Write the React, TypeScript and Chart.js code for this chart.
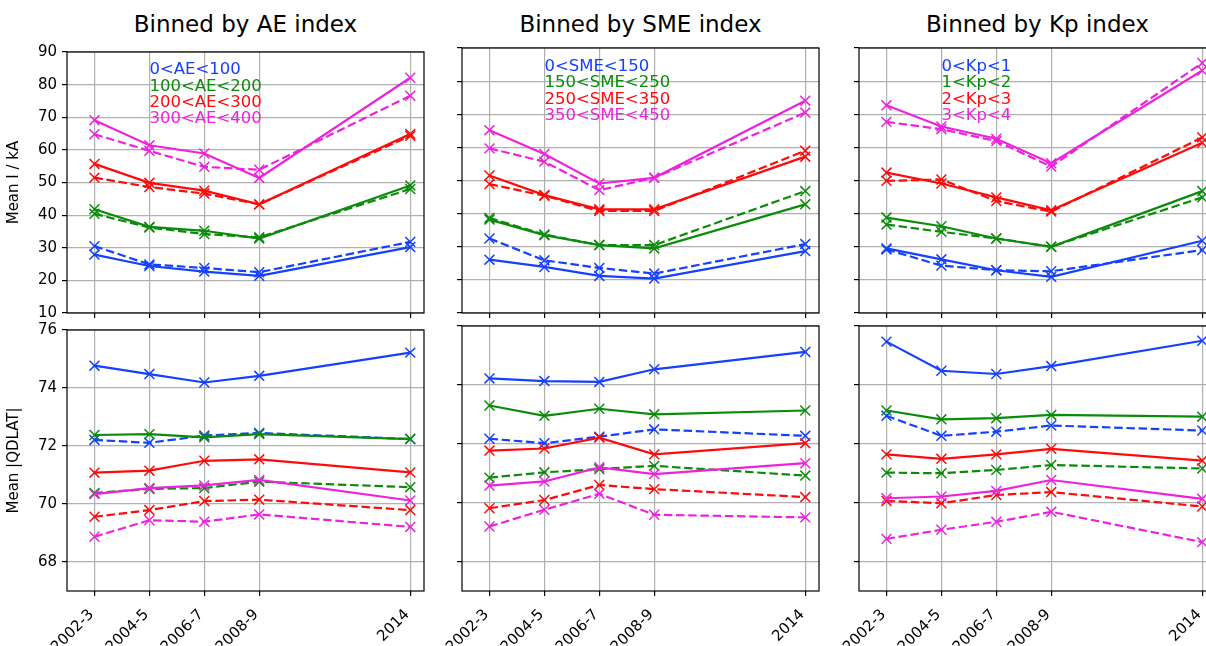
import { useEffect, useRef } from "react";
import { Chart, registerables } from "chart.js";

Chart.register(...registerables);

// x positions of the observation periods (mid-year of each bin)
const periods = ["2002-3", "2004-5", "2006-7", "2008-9", "2014"];
const periodX = [2002.5, 2004.5, 2006.5, 2008.5, 2014];

const currentTicks = [10, 20, 30, 40, 50, 60, 70, 80, 90];
const qdlatTicks = [68, 70, 72, 74, 76];

const aeBins = ["0<AE<100", "100<AE<200", "200<AE<300", "300<AE<400"];
const smeBins = ["0<SME<150", "150<SME<250", "250<SME<350", "350<SME<450"];
const kpBins = ["0<Kp<1", "1<Kp<2", "2<Kp<3", "3<Kp<4"];

// Mean current I / kA (rows: bins low -> high)
const aeCurrentSolid = [
  [27.9, 24.4, 22.7, 21.4, 30.2],
  [41.8, 36.4, 35.2, 32.8, 49.1],
  [55.7, 49.9, 47.5, 43.3, 64.9],
  [69.1, 61.4, 58.9, 51.4, 82.1],
];
const aeCurrentDashed = [
  [30.5, 24.9, 23.8, 22.5, 31.8],
  [40.4, 36.2, 34.2, 33.2, 48.0],
  [51.5, 48.6, 46.6, 43.3, 64.3],
  [64.8, 59.7, 54.8, 53.9, 76.6],
];
const smeCurrentSolid = [
  [26.1, 23.9, 21.2, 20.4, 28.7],
  [38.2, 33.5, 30.5, 29.5, 42.8],
  [51.5, 45.6, 41.3, 41.3, 57.2],
  [65.2, 58.0, 49.1, 50.8, 74.1],
];
const smeCurrentDashed = [
  [32.5, 25.9, 23.6, 21.9, 30.8],
  [38.7, 33.7, 30.5, 30.5, 46.8],
  [48.9, 45.4, 40.8, 40.8, 59.0],
  [59.7, 55.7, 47.1, 50.8, 70.5],
];
const kpCurrentSolid = [
  [29.5, 26.2, 22.9, 20.9, 31.8],
  [38.8, 36.2, 32.5, 30.0, 46.8],
  [52.4, 49.1, 44.9, 41.0, 61.4],
  [72.7, 66.3, 62.6, 55.2, 83.2],
];
const kpCurrentDashed = [
  [29.2, 24.3, 22.9, 22.6, 29.0],
  [36.7, 34.5, 32.5, 30.0, 44.9],
  [49.9, 50.3, 43.8, 40.6, 63.0],
  [67.7, 65.5, 61.9, 54.2, 85.5],
];

// Mean |QDLAT|
const aeQdlatSolid = [
  [74.77, 74.48, 74.19, 74.42, 75.22],
  [72.38, 72.41, 72.3, 72.41, 72.24],
  [71.08, 71.15, 71.49, 71.54, 71.09],
  [70.34, 70.55, 70.64, 70.83, 70.12],
];
const aeQdlatDashed = [
  [72.21, 72.11, 72.36, 72.45, 72.24],
  [70.38, 70.52, 70.55, 70.77, 70.58],
  [69.56, 69.79, 70.1, 70.15, 69.79],
  [68.87, 69.44, 69.39, 69.64, 69.21],
];
const smeQdlatSolid = [
  [74.22, 74.13, 74.1, 74.53, 75.12],
  [73.3, 72.95, 73.19, 73.0, 73.13],
  [71.77, 71.84, 72.21, 71.64, 72.02],
  [70.58, 70.72, 71.2, 70.97, 71.34],
];
const smeQdlatDashed = [
  [72.17, 72.02, 72.24, 72.49, 72.27],
  [70.85, 71.03, 71.14, 71.25, 70.92],
  [69.81, 70.09, 70.6, 70.46, 70.19],
  [69.19, 69.76, 70.3, 69.59, 69.5],
];
const kpQdlatSolid = [
  [75.47, 74.48, 74.37, 74.64, 75.5],
  [73.13, 72.83, 72.87, 72.98, 72.92],
  [71.64, 71.49, 71.64, 71.83, 71.43],
  [70.15, 70.21, 70.4, 70.77, 70.13],
];
const kpQdlatDashed = [
  [72.95, 72.27, 72.41, 72.62, 72.45],
  [71.02, 71.0, 71.11, 71.28, 71.16],
  [70.06, 69.98, 70.26, 70.36, 69.87],
  [68.77, 69.08, 69.35, 69.69, 68.66],
];

const binColors = ["#1440ff", "#0a8c0a", "#ff0a0a", "#ee22dd"];
const FONT = "'DejaVu Sans', sans-serif";

const PLOT_W = 357;
const PLOT_H = 265;
const PAD_L = 67;
const PAD_R = 10;
const PAD_T = 10;
const PAD_B = 55;
const colLeft = [67, 462, 859];
const rowTop = [48, 326];

const framePlugin = {
  id: "frame",
  afterDraw(chart: any) {
    const { ctx, chartArea: a } = chart;
    ctx.save();
    ctx.strokeStyle = "#000";
    ctx.lineWidth = 1.2;
    ctx.strokeRect(a.left, a.top, a.right - a.left, a.bottom - a.top);
    ctx.restore();
  },
};

type PanelProps = {
  col: number;
  row: number;
  solid: number[][];
  dashed: number[][];
  bins: string[];
  yTicks: number[];
  yMin: number;
  yMax: number;
  yTitle?: string;
  showBins: boolean;
};

function Panel({ col, row, solid, dashed, bins, yTicks, yMin, yMax, yTitle, showBins }: PanelProps) {
  const chartRef = useRef<HTMLCanvasElement>(null);

  useEffect(() => {
    if (!chartRef.current) return;
    const ctx = chartRef.current.getContext("2d");
    if (!ctx) return;

    const datasets: any[] = [];
    for (let b = 0; b < bins.length; b++) {
      const series: [number[], number[]][] = [
        [solid[b], []],
        [dashed[b], [8.5, 3.7]],
      ];
      for (const [vals, dash] of series) {
        datasets.push({
          label: bins[b],
          data: periodX.map((x, i) => ({ x, y: vals[i] })),
          borderColor: binColors[b],
          backgroundColor: binColors[b],
          borderWidth: 2.2,
          borderDash: dash,
          pointStyle: "crossRot",
          pointRadius: 7,
          pointBorderWidth: 1.5,
          pointBorderColor: binColors[b],
          tension: 0,
          fill: false,
          order: 100 - datasets.length,
        });
      }
    }

    // coloured bin labels, placed in data coordinates
    const binLabels = {
      id: "binLabels",
      afterDatasetsDraw(chart: any) {
        if (!showBins) return;
        const { ctx: c, scales } = chart;
        c.save();
        c.font = `16.5px ${FONT}`;
        c.textAlign = "left";
        c.textBaseline = "alphabetic";
        bins.forEach((t, i) => {
          c.fillStyle = binColors[i];
          c.fillText(t, scales.x.getPixelForValue(2004.5), scales.y.getPixelForValue(85 - 5 * i) + 6);
        });
        c.restore();
      },
    };

    const gridOpts = {
      color: "#b0b0b0",
      lineWidth: 1.2,
      tickColor: "#000",
      tickLength: 5,
      tickWidth: 1.2,
    };

    const chart = new Chart(ctx, {
      type: "line",
      data: { datasets },
      options: {
        responsive: false,
        animation: false,
        layout: { padding: { left: 0, right: PAD_R, top: PAD_T, bottom: 0 } },
        plugins: {
          legend: { display: false },
          tooltip: { enabled: false },
        },
        scales: {
          x: {
            type: "linear",
            min: 2001.5,
            max: 2014.5,
            afterBuildTicks: (axis: any) => {
              axis.ticks = periodX.map((v) => ({ value: v }));
            },
            afterFit: (axis: any) => {
              axis.height = PAD_B;
            },
            ticks: {
              display: row === 1,
              autoSkip: false,
              minRotation: 45,
              maxRotation: 45,
              padding: 10,
              labelOffset: -3,
              color: "#000",
              font: { family: FONT, size: 15 },
              callback: (_v: any, i: number) => periods[i],
            },
            grid: gridOpts,
            border: { display: false },
          },
          y: {
            type: "linear",
            min: yMin,
            max: yMax,
            afterBuildTicks: (axis: any) => {
              axis.ticks = yTicks.map((v) => ({ value: v }));
            },
            afterFit: (axis: any) => {
              axis.width = PAD_L;
            },
            ticks: {
              display: col === 0,
              padding: 5,
              color: "#000",
              font: { family: FONT, size: 15 },
            },
            grid: gridOpts,
            border: { display: false },
            title: {
              display: !!yTitle,
              text: yTitle ?? "",
              color: "#000",
              font: { family: FONT, size: 15 },
              padding: { top: 5, bottom: 0 },
            },
          },
        },
      } as any,
      plugins: [binLabels, framePlugin],
    });

    return () => {
      chart.destroy();
    };
  }, []);

  const w = PAD_L + PLOT_W + PAD_R;
  const h = PAD_T + PLOT_H + PAD_B;
  return (
    <canvas
      ref={chartRef}
      width={w}
      height={h}
      style={{
        position: "absolute",
        left: colLeft[col] - PAD_L,
        top: rowTop[row] - PAD_T,
        width: w,
        height: h,
      }}
    />
  );
}

const titles = ["Binned by AE index", "Binned by SME index", "Binned by Kp index"];

export default function App() {
  return (
    <div
      style={{
        position: "fixed",
        left: 0,
        top: 0,
        width: 1206,
        height: 646,
        overflow: "hidden",
        background: "#fff",
      }}
    >
      {titles.map((t, i) => (
        <div
          key={t}
          style={{
            position: "absolute",
            left: colLeft[i],
            top: 12.5,
            width: PLOT_W,
            textAlign: "center",
            fontFamily: FONT,
            fontSize: 23,
            lineHeight: "23px",
            color: "#000",
          }}
        >
          {t}
        </div>
      ))}
      <Panel col={0} row={0} solid={aeCurrentSolid} dashed={aeCurrentDashed} bins={aeBins}
        yTicks={currentTicks} yMin={10} yMax={90} yTitle="Mean I / kA" showBins />
      <Panel col={1} row={0} solid={smeCurrentSolid} dashed={smeCurrentDashed} bins={smeBins}
        yTicks={currentTicks} yMin={10} yMax={90} showBins />
      <Panel col={2} row={0} solid={kpCurrentSolid} dashed={kpCurrentDashed} bins={kpBins}
        yTicks={currentTicks} yMin={10} yMax={90} showBins />
      <Panel col={0} row={1} solid={aeQdlatSolid} dashed={aeQdlatDashed} bins={aeBins}
        yTicks={qdlatTicks} yMin={67} yMax={76} yTitle="Mean |QDLAT|" showBins={false} />
      <Panel col={1} row={1} solid={smeQdlatSolid} dashed={smeQdlatDashed} bins={smeBins}
        yTicks={qdlatTicks} yMin={67} yMax={76} showBins={false} />
      <Panel col={2} row={1} solid={kpQdlatSolid} dashed={kpQdlatDashed} bins={kpBins}
        yTicks={qdlatTicks} yMin={67} yMax={76} showBins={false} />
    </div>
  );
}
